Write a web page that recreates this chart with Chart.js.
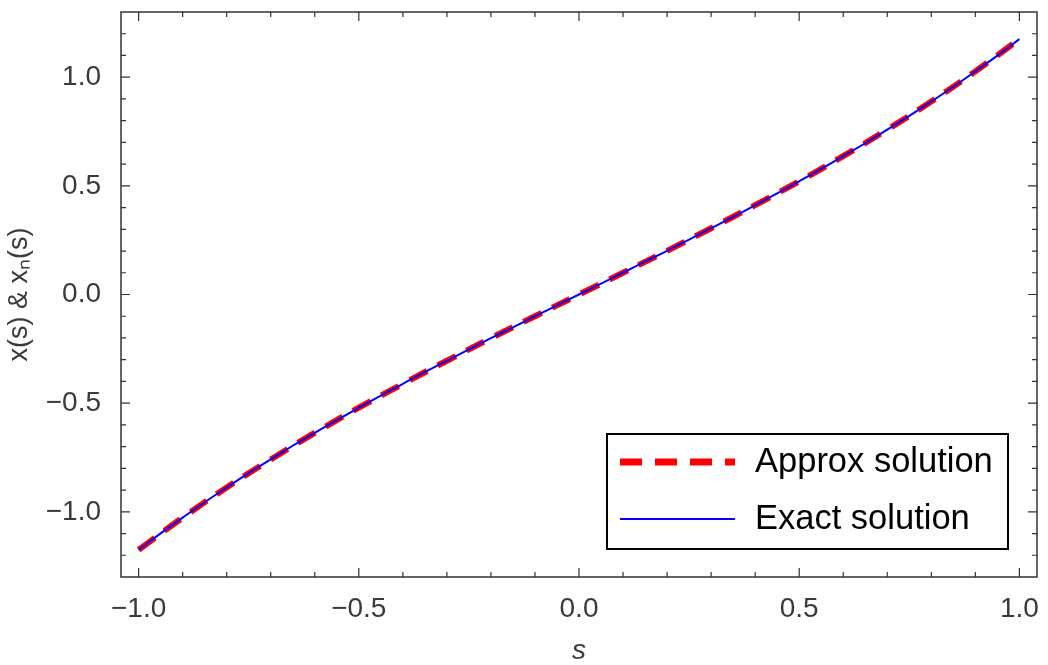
<!DOCTYPE html>
<html>
<head>
<meta charset="utf-8">
<script src="https://cdn.jsdelivr.net/npm/chart.js@4.4.1/dist/chart.umd.min.js"></script>
<style>
    body { margin: 0; background: #fff; }
    #wrap { width: 1048px; height: 665px; }
</style>
</head>
<body>
<div id="wrap"><canvas id="solChart" width="1048" height="665"></canvas></div>
<script>
// values
const approxS = [-1.0, -0.9, -0.8, -0.7, -0.6, -0.5, -0.4, -0.3, -0.2, -0.1, 0.0,
                 0.1, 0.2, 0.3, 0.4, 0.5, 0.6, 0.7, 0.8, 0.9, 1.0];
const approxX = [-1.175, -1.027, -0.888, -0.759, -0.637, -0.521, -0.411, -0.305, -0.201, -0.100, 0.0,
                 0.100, 0.201, 0.305, 0.411, 0.521, 0.637, 0.759, 0.888, 1.027, 1.175];

const exactS = [-1.0, -0.95, -0.9, -0.85, -0.8, -0.75, -0.7, -0.65, -0.6, -0.55, -0.5,
                -0.45, -0.4, -0.35, -0.3, -0.25, -0.2, -0.15, -0.1, -0.05, 0.0,
                0.05, 0.1, 0.15, 0.2, 0.25, 0.3, 0.35, 0.4, 0.45, 0.5,
                0.55, 0.6, 0.65, 0.7, 0.75, 0.8, 0.85, 0.9, 0.95, 1.0];
const exactX = [-1.175, -1.099, -1.027, -0.956, -0.888, -0.822, -0.759, -0.696, -0.637, -0.578, -0.521,
                -0.465, -0.411, -0.357, -0.305, -0.253, -0.201, -0.151, -0.100, -0.050, 0.0,
                0.050, 0.100, 0.151, 0.201, 0.253, 0.305, 0.357, 0.411, 0.465, 0.521,
                0.578, 0.637, 0.696, 0.759, 0.822, 0.888, 0.956, 1.027, 1.099, 1.175];

const xTicks = [-1.0, -0.5, 0.0, 0.5, 1.0];
const yTicks = [-1.0, -0.5, 0.0, 0.5, 1.0];
const xRange = [-1.04, 1.04];
const yRange = [-1.3, 1.3];

const labelFont = { family: "'Liberation Sans', Arial, sans-serif", size: 28 };
const textGray = '#3a3a3a';

function fmt(v) {
    return (v < 0 ? '\u2212' : '') + Math.abs(v).toFixed(1);
}

// Mathematica style frame: box with inward ticks on all four sides
const framePlugin = {
    id: 'frame',
    afterDatasetsDraw(chart) {
        const { ctx, chartArea: a, scales } = chart;
        const xs = scales.x, ys = scales.y;
        ctx.save();
        ctx.strokeStyle = '#333';
        ctx.lineWidth = 1.5;
        ctx.strokeRect(a.left, a.top, a.right - a.left, a.bottom - a.top);
        ctx.lineWidth = 1.2;
        ctx.beginPath();
        for (let i = -10; i <= 10; i++) {
            const v = i / 10;
            const len = (i % 5 === 0) ? 9 : 5;
            const px = xs.getPixelForValue(v);
            ctx.moveTo(px, a.bottom); ctx.lineTo(px, a.bottom - len);
            ctx.moveTo(px, a.top); ctx.lineTo(px, a.top + len);
        }
        for (let i = -12; i <= 12; i++) {
            const v = i / 10;
            const len = (i % 5 === 0) ? 9 : 5;
            const py = ys.getPixelForValue(v);
            ctx.moveTo(a.left, py); ctx.lineTo(a.left + len, py);
            ctx.moveTo(a.right, py); ctx.lineTo(a.right - len, py);
        }
        ctx.stroke();
        ctx.restore();
    }
};

const legendPlugin = {
    id: 'boxLegend',
    afterDraw(chart) {
        const { ctx, chartArea: a } = chart;
        const right = a.right - 29, bottom = a.bottom - 28;
        const left = right - 401, top = bottom - 115;
        ctx.save();
        ctx.fillStyle = '#fff';
        ctx.fillRect(left, top, right - left, bottom - top);
        ctx.strokeStyle = '#000';
        ctx.lineWidth = 2;
        ctx.strokeRect(left, top, right - left, bottom - top);

        const rowY = [top + 28, top + 85];
        [0, 1].forEach((di, r) => {
            const ds = chart.data.datasets[di];
            const y = rowY[r];
            ctx.beginPath();
            ctx.strokeStyle = ds.borderColor;
            ctx.lineWidth = di === 0 ? 7 : 2;
            ctx.setLineDash(di === 0 ? [22, 13] : []);
            ctx.moveTo(left + 13, y);
            ctx.lineTo(left + 128, y);
            ctx.stroke();
            ctx.setLineDash([]);
            ctx.fillStyle = '#000';
            ctx.font = "34.5px 'Liberation Sans', Arial, sans-serif";
            ctx.textBaseline = 'middle';
            ctx.textAlign = 'left';
            ctx.fillText(ds.label, left + 148, y);
        });
        ctx.restore();
    }
};

const chartCtx = document.getElementById('solChart').getContext('2d');
const solChart = new Chart(chartCtx, {
    type: 'line',
    data: {
        datasets: [{
            label: 'Approx solution',
            data: approxS.map((s, i) => ({ x: s, y: approxX[i] })),
            borderColor: '#ff0000',
            borderWidth: 6,
            borderDash: [20, 12],
            pointRadius: 0,
            tension: 0.4,
            fill: false,
            order: 2
        }, {
            label: 'Exact solution',
            data: exactS.map((s, i) => ({ x: s, y: exactX[i] })),
            borderColor: '#0000ff',
            borderWidth: 2,
            pointRadius: 0,
            tension: 0.4,
            fill: false,
            order: 1
        }]
    },
    options: {
        responsive: false,
        animation: false,
        layout: { padding: { top: 12, right: 11, left: 0, bottom: 0 } },
        plugins: {
            legend: { display: false },
            tooltip: { enabled: false }
        },
        scales: {
            x: {
                type: 'linear',
                min: xRange[0],
                max: xRange[1],
                afterBuildTicks: (scale) => { scale.ticks = xTicks.map(v => ({ value: v })); },
                afterFit: (scale) => {
                    scale.height = 88;
                    scale.paddingLeft = 0;
                    scale.paddingRight = 0;
                },
                grid: { display: false },
                border: { display: false },
                ticks: {
                    autoSkip: false,
                    maxRotation: 0,
                    padding: 7,
                    color: textGray,
                    font: labelFont,
                    callback: (v) => fmt(v)
                },
                title: {
                    display: true,
                    text: 's',
                    color: textGray,
                    font: { family: labelFont.family, size: 28, style: 'italic' },
                    padding: { top: 0, bottom: -3 }
                }
            },
            y: {
                type: 'linear',
                min: yRange[0],
                max: yRange[1],
                afterBuildTicks: (scale) => { scale.ticks = yTicks.map(v => ({ value: v })); },
                afterFit: (scale) => {
                    scale.width = 121;
                    scale.paddingTop = 0;
                    scale.paddingBottom = 0;
                },
                grid: { display: false },
                border: { display: false },
                ticks: {
                    autoSkip: false,
                    padding: 12,
                    color: textGray,
                    font: labelFont,
                    callback: (v) => fmt(v)
                },
                title: {
                    display: true,
                    text: 'x(s) & x\u2099(s)',
                    color: textGray,
                    font: { family: labelFont.family, size: 27 },
                    padding: { top: 3, bottom: 0 }
                }
            }
        }
    },
    plugins: [framePlugin, legendPlugin]
});
</script>
</body>
</html>
